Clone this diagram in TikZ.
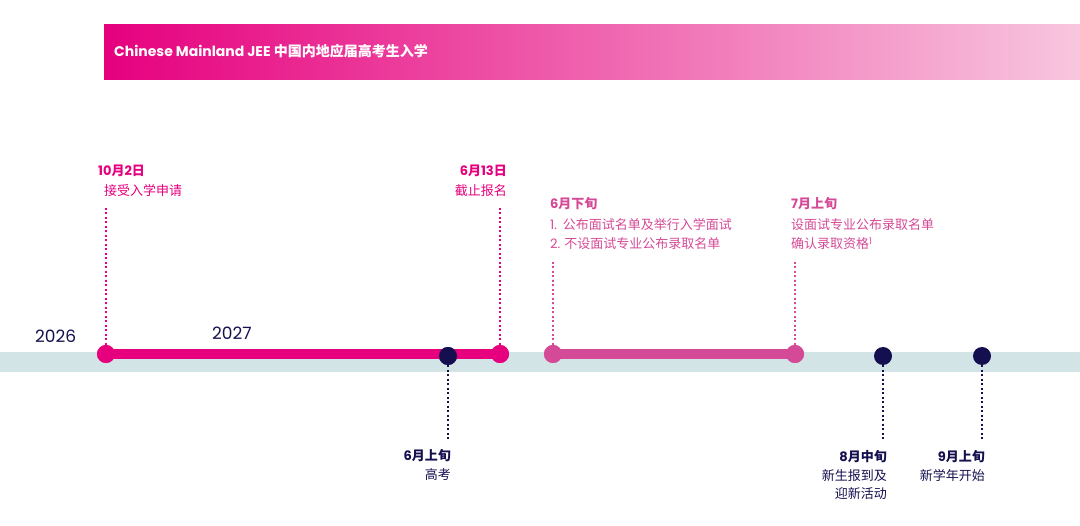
\documentclass[tikz,border=0pt]{standalone}
\usepackage{fontspec}
\setmainfont{Noto Sans CJK SC}
\newfontfamily\pop{Poppins}
\definecolor{mag}{HTML}{E6007E}
\definecolor{rose}{HTML}{D44A96}
\definecolor{navy}{HTML}{14104F}
\definecolor{band}{HTML}{D3E4E6}
\definecolor{pale}{HTML}{F8C6DF}
\begin{document}
\begin{tikzpicture}[x=1pt,y=-1pt,
  lab/.style={font=\fontsize{13}{16}\selectfont, inner sep=0pt},
  hd/.style={font=\bfseries\fontsize{13}{16}\selectfont, inner sep=0pt},
  dotl/.style={line width=2pt, dash pattern=on 2pt off 2.5pt},
  dot/.style={circle, minimum size=18pt, inner sep=0pt}]
\useasboundingbox (0,0) rectangle (1080,526);
\shade[left color=mag, right color=pale] (104,25) rectangle (1080,80);
\node[anchor=west, text=white, font=\bfseries\fontsize{14}{16}\selectfont, inner sep=0pt] (title) at (114,51) {{\pop Chinese Mainland JEE} 中国内地应届高考生入学};
\fill[band] (0,352) rectangle (1080,372);
% nodes
\node[dot, fill=mag] (a) at (106,354) {};
\node[dot, fill=mag] (b) at (500,354) {};
\node[dot, fill=navy] (g) at (448,356) {};
\node[dot, fill=rose] (c) at (553,354) {};
\node[dot, fill=rose] (d) at (795,354) {};
\node[dot, fill=navy] (h) at (883,356) {};
\node[dot, fill=navy] (i) at (982,356) {};
\draw[mag, line width=10pt] (a.center) -- (b.center);
\node[dot, fill=navy] at (448,356) {};
\draw[rose, line width=10pt] (c.center) -- (d.center);
\node[dot, fill=mag] at (106,354) {};
\node[dot, fill=mag] at (500,354) {};
\node[dot, fill=rose] at (553,354) {};
\node[dot, fill=rose] at (795,354) {};
% years
\node[text=navy, font=\pop\fontsize{17}{19}\selectfont, anchor=west, inner sep=0pt] (y1) at (35,336) {2026};
\node[text=navy, font=\pop\fontsize{17}{19}\selectfont, anchor=west, inner sep=0pt] (y2) at (212,333) {2027};
% coordinates
\coordinate (at) at (106,208); \coordinate (bt) at (500,208);
\coordinate (ct) at (553,262); \coordinate (dt) at (795,262);
\coordinate (gb) at (448,440); \coordinate (hb) at (883,440); \coordinate (ib) at (982,440);
\draw[mag, dotl] (at) -- (a); \draw[mag, dotl] (bt) -- (b);
\draw[rose, dotl] (ct) -- (c); \draw[rose, dotl] (dt) -- (d);
\draw[navy, dotl] (g) -- (gb); \draw[navy, dotl] (h) -- (hb); \draw[navy, dotl] (i) -- (ib);
% labels
\node[hd, text=mag, anchor=west] (l1) at (98,171) {{\pop 10}月{\pop 2}日};
\node[lab, text=mag, anchor=west] (l1b) at (104,191) {接受入学申请};
\node[hd, text=mag, anchor=east] (l2) at (507,171) {{\pop 6}月{\pop 13}日};
\node[lab, text=mag, anchor=east] (l2b) at (507,191) {截止报名};
\node[hd, text=rose, anchor=west] (l3) at (550,204) {{\pop 6}月下旬};
\node[lab, text=rose, anchor=west] (l3b) at (550,225) {{\pop 1.}\ \ 公布面试名单及举行入学面试};
\node[lab, text=rose, anchor=west] (l3c) at (550,244) {{\pop 2.} 不设面试专业公布录取名单};
\node[hd, text=rose, anchor=west] (l4) at (791,204) {{\pop 7}月上旬};
\node[lab, text=rose, anchor=west] (l4b) at (791,225) {设面试专业公布录取名单};
\node[lab, text=rose, anchor=west] (l4c) at (791,244) {确认录取资格{\pop\textsuperscript{1}}};
\node[hd, text=navy, anchor=east] (l5) at (451,456) {{\pop 6}月上旬};
\node[lab, text=navy, anchor=east] (l5b) at (451,475) {高考};
\node[hd, text=navy, anchor=east] (l6) at (887,457) {{\pop 8}月中旬};
\node[lab, text=navy, anchor=east] (l6b) at (887,476) {新生报到及};
\node[lab, text=navy, anchor=east] (l6c) at (887,494) {迎新活动};
\node[hd, text=navy, anchor=east] (l7) at (985,457) {{\pop 9}月上旬};
\node[lab, text=navy, anchor=east] (l7b) at (985,476) {新学年开始};
\end{tikzpicture}
\end{document}
